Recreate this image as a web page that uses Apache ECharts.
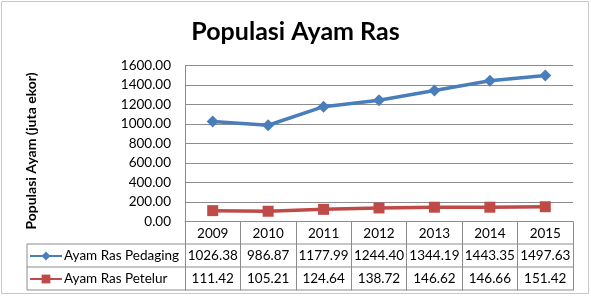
<!DOCTYPE html>
<html>
<head>
<meta charset="utf-8">
<script src="https://cdn.jsdelivr.net/npm/echarts@6/dist/echarts.min.js"></script>
<style>
  html, body { margin: 0; padding: 0; background: #fff; }
  #chart { width: 591px; height: 296px; }
</style>
</head>
<body>
<div id="chart"></div>
<script>
// data
var years = ['2009', '2010', '2011', '2012', '2013', '2014', '2015']
var pedaging = [1026.38, 986.87, 1177.99, 1244.40, 1344.19, 1443.35, 1497.63]
var petelur = [111.42, 105.21, 124.64, 138.72, 146.62, 146.66, 151.42]
var seriesNames = ['Ayam Ras Pedaging', 'Ayam Ras Petelur']

var font = 'Lato, "Open Sans", sans-serif'
var gridColor = '#8c8c8c'
var blue = '#4a7ebb'
var red = '#be4b48'
var tableLeft = 27
var tableRight = 573
var rowY = [244, 267, 290]

var myChart = echarts.init(document.getElementById('chart'))

var graphics = [
  {
    type: 'rect',
    shape: { x: 1.5, y: 1.5, width: 587, height: 292 },
    style: { fill: 'none', stroke: '#c8c8c8', lineWidth: 1 }
  },
  {
    type: 'text',
    x: 31,
    y: 151,
    rotation: Math.PI / 2,
    style: {
      text: 'Populasi Ayam (juta ekor)',
      font: 'bold 14px ' + font,
      fill: '#000',
      textAlign: 'center',
      textVerticalAlign: 'middle'
    }
  }
]
// table borders
rowY.forEach(function (y) {
  graphics.push({
    type: 'line',
    shape: { x1: tableLeft, y1: y, x2: tableRight, y2: y },
    style: { stroke: gridColor, lineWidth: 1 }
  })
})
graphics.push({
  type: 'line',
  shape: { x1: tableLeft, y1: rowY[0], x2: tableLeft, y2: rowY[2] },
  style: { stroke: gridColor, lineWidth: 1 }
})

function legendFor(name, top) {
  return {
    orient: 'horizontal',
    left: 29,
    top: top,
    padding: 0,
    itemWidth: 32,
    itemHeight: 11,
    itemGap: 0,
    data: [name],
    textStyle: { fontSize: 13.5, color: '#000', fontFamily: font, padding: [0, 0, 0, -3] }
  }
}

myChart.setOption({
  animation: false,
  textStyle: { fontFamily: font },
  title: {
    text: 'Populasi Ayam Ras',
    left: 'center',
    top: 14,
    textStyle: { fontSize: 25, fontWeight: 'bold', color: '#000', fontFamily: font }
  },
  grid: { left: 185, right: 18, top: 65.5, bottom: 74.5 },
  legend: [legendFor(seriesNames[0], 249), legendFor(seriesNames[1], 272)],
  xAxis: {
    type: 'category',
    data: years,
    boundaryGap: true,
    axisLine: { show: true, lineStyle: { color: gridColor, width: 1 } },
    axisTick: {
      show: true,
      alignWithLabel: false,
      inside: false,
      length: 69,
      lineStyle: { color: gridColor, width: 1 }
    },
    axisLabel: {
      margin: 5,
      interval: 0,
      fontSize: 13.5,
      color: '#000',
      fontFamily: font
    }
  },
  yAxis: {
    type: 'value',
    min: 0,
    max: 1600,
    interval: 200,
    axisLine: { show: true, lineStyle: { color: gridColor, width: 1 } },
    axisTick: { show: false },
    axisLabel: {
      margin: 14,
      fontSize: 13.5,
      color: '#000',
      fontFamily: font,
      formatter: function (v) { return v.toFixed(2) }
    },
    splitLine: { show: true, lineStyle: { color: gridColor, width: 1 } }
  },
  graphic: graphics,
  series: [
    {
      name: seriesNames[0],
      type: 'line',
      data: pedaging,
      symbol: 'diamond',
      symbolSize: 12,
      lineStyle: { color: blue, width: 3.5 },
      itemStyle: { color: blue }
    },
    {
      name: seriesNames[1],
      type: 'line',
      data: petelur,
      symbol: 'rect',
      symbolSize: 11,
      lineStyle: { color: red, width: 3.5 },
      itemStyle: { color: red }
    }
  ]
})

// data table values, placed at the category positions of the x axis
var cells = []
years.forEach(function (y, i) {
  var x = myChart.convertToPixel({ xAxisIndex: 0 }, y)
  ;[pedaging, petelur].forEach(function (arr, r) {
    cells.push({
      type: 'text',
      x: x,
      y: (rowY[r] + rowY[r + 1]) / 2 + 0.5,
      style: {
        text: arr[i].toFixed(2),
        font: '13.5px ' + font,
        fill: '#000',
        textAlign: 'center',
        textVerticalAlign: 'middle'
      }
    })
  })
})
myChart.setOption({ graphic: graphics.concat(cells) })
</script>
</body>
</html>
